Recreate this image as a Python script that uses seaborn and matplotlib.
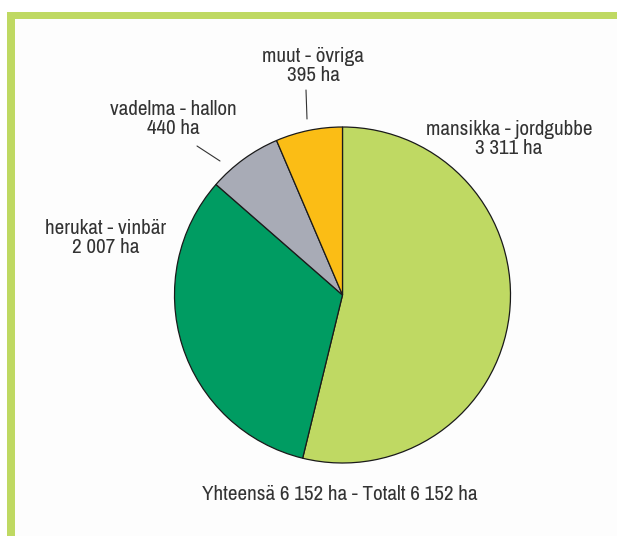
import matplotlib
matplotlib.use("Agg")
import matplotlib.pyplot as plt
from matplotlib.patches import Rectangle
from matplotlib import font_manager
import seaborn as sns

# data, clockwise from the top
crops = ["mansikka - jordgubbe", "herukat - vinbär", "vadelma - hallon", "muut - övriga"]
areas = [3311, 2007, 440, 395]
area_labels = ["3 311 ha", "2 007 ha", "440 ha", "395 ha"]
colors = ["#bfd963", "#009c62", "#a8abb6", "#fbbd15"]
total_text = "Yhteensä 6 152 ha - Totalt 6 152 ha"

W, H = 617, 536

sns.set_theme(style="white")
names = {f.name for f in font_manager.fontManager.ttflist}
prefer = ["Liberation Sans Narrow", "Archivo Narrow", "Roboto Condensed", "Liberation Sans", "DejaVu Sans"]
family = [f for f in prefer if f in names]
plt.rcParams["font.family"] = family

fig = plt.figure(figsize=(W / 100, H / 100), dpi=100)
fig.patch.set_facecolor("white")
ax = fig.add_axes([0, 0, 1, 1])
ax.axis("off")

# frame: light background plus green top and left bars
green = "#bfd962"
ax.add_patch(Rectangle((15, 0), W - 15, H - 19, facecolor="#fdfdfd", edgecolor="none", zorder=0))
ax.add_patch(Rectangle((7, H - 19), W - 7, 7, facecolor=green, edgecolor="none", zorder=1))
ax.add_patch(Rectangle((7, 0), 8, H - 12, facecolor=green, edgecolor="none", zorder=1))

ax.pie(areas, colors=colors, startangle=90, counterclock=False,
       center=(342.5, H - 295), radius=168,
       wedgeprops=dict(edgecolor="#1a1a1a", linewidth=0.9))
ax.set_xlim(0, W)
ax.set_ylim(0, H)
ax.set_aspect("equal")

fs = 15.2
tc = "#333333"
label_pos = [(509, H - 139), (106, H - 238), (173, H - 119), (313, H - 66)]
for name, lab, (x, y) in zip(crops, area_labels, label_pos):
    ax.text(x, y, f"{name}\n{lab}", ha="center", va="center", fontsize=fs,
            color=tc, linespacing=1.0)

# leader lines
ax.plot([197, 220], [H - 146, H - 161], color="#333333", lw=0.8)
ax.plot([306, 307], [H - 90, H - 119], color="#333333", lw=0.8)

ax.text(340, H - 495, total_text, ha="center", va="center", fontsize=fs, color=tc)

fig.savefig("out.png", dpi=100)
